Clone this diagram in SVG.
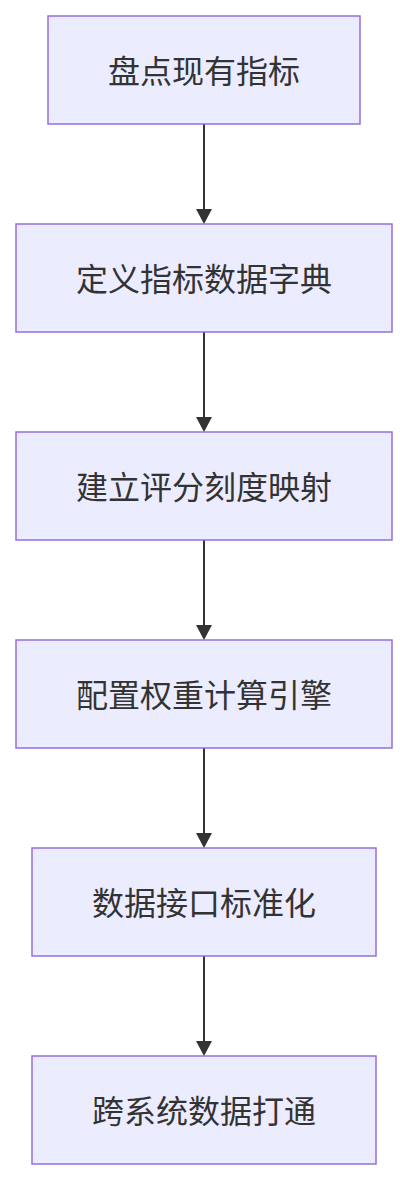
<svg xmlns="http://www.w3.org/2000/svg" width="408" height="1180" viewBox="0 0 408 1180">
<style>
.node rect{fill:#ECECFF;stroke:#9370DB;stroke-width:1.5}
.node text{font-family:"Noto Sans CJK SC","Noto Sans",sans-serif;font-size:32px;fill:#333;text-anchor:middle;dominant-baseline:central}
.edge{stroke:#333;stroke-width:2;fill:none}
.head{fill:#333}
</style>
<rect width="408" height="1180" fill="#fff"/>
<g id="connectors">
<line class="edge" x1="204" y1="124" x2="204" y2="210"/>
<polygon class="head" points="196,209 212,209 204,224"/>
<line class="edge" x1="204" y1="332" x2="204" y2="418"/>
<polygon class="head" points="196,417 212,417 204,432"/>
<line class="edge" x1="204" y1="540" x2="204" y2="626"/>
<polygon class="head" points="196,625 212,625 204,640"/>
<line class="edge" x1="204" y1="748" x2="204" y2="834"/>
<polygon class="head" points="196,833 212,833 204,848"/>
<line class="edge" x1="204" y1="956" x2="204" y2="1042"/>
<polygon class="head" points="196,1041 212,1041 204,1056"/>
</g>
<g id="n1" class="node"><rect x="48" y="16" width="312" height="108"/><text x="204" y="69">盘点现有指标</text></g>
<g id="n2" class="node"><rect x="16" y="224" width="376" height="108"/><text x="204" y="277">定义指标数据字典</text></g>
<g id="n3" class="node"><rect x="16" y="432" width="376" height="108"/><text x="204" y="485">建立评分刻度映射</text></g>
<g id="n4" class="node"><rect x="16" y="640" width="376" height="108"/><text x="204" y="693">配置权重计算引擎</text></g>
<g id="n5" class="node"><rect x="32" y="848" width="344" height="108"/><text x="204" y="901">数据接口标准化</text></g>
<g id="n6" class="node"><rect x="32" y="1056" width="344" height="108"/><text x="204" y="1109">跨系统数据打通</text></g>
</svg>
